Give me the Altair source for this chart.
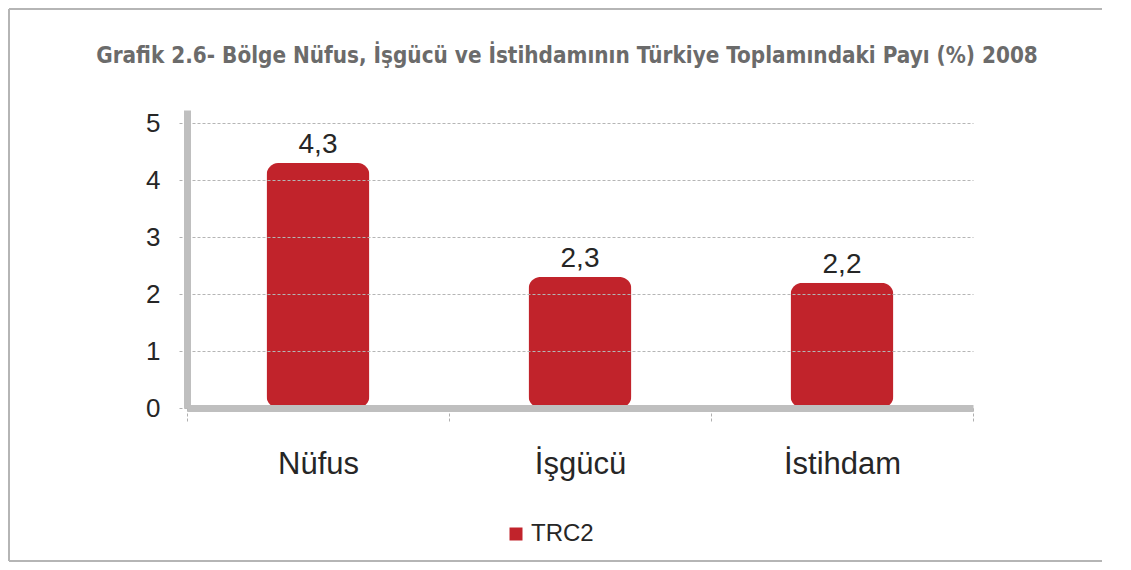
import altair as alt
import pandas as pd

categories = ["Nüfus", "İşgücü", "İstihdam"]
values = [4.3, 2.3, 2.2]
series = ["TRC2", "TRC2", "TRC2"]
y_ticks = [0, 1, 2, 3, 4, 5]
title_text = "Grafik 2.6- Bölge Nüfus, İşgücü ve İstihdamının Türkiye Toplamındaki Payı (%) 2008"

df = pd.DataFrame({"kategori": categories, "deger": values, "seri": series})
one = pd.DataFrame({"t": [title_text]})

RED = "#c1232b"
GREY = "#bfbfbf"
FONT = "Liberation Sans"

x = alt.X("kategori:N", sort=categories,
          scale=alt.Scale(paddingInner=0, paddingOuter=0),
          axis=alt.Axis(title=None, labelAngle=0, labelFontSize=31, labelFont=FONT,
                        labelColor="#262626", labelPadding=26,
                        domainColor=GREY, domainWidth=7,
                        tickBand="extent", tickColor="#b0b0b0", tickDash=[3, 2],
                        tickSize=15, tickWidth=1, zindex=1))
y = alt.Y("deger:Q", scale=alt.Scale(domain=[0, 5.23], nice=False, zero=True),
          axis=alt.Axis(title=None, values=y_ticks, format="d", labelFontSize=26, labelFont=FONT,
                        labelColor="#262626", labelPadding=18,
                        domainColor=GREY, domainWidth=7,
                        tickColor="#b0b0b0", tickDash=[3, 2], tickSize=9, tickWidth=1,
                        grid=True, gridColor="#b5b5b5", gridDash=[3, 2], gridWidth=1,
                        zindex=1))

bars = alt.Chart(df).mark_bar(cornerRadius=12, color=RED, width=alt.RelativeBandSize(0.393)).encode(
    x=x, y=y,
    color=alt.Color("seri:N", scale=alt.Scale(range=[RED]),
                    legend=alt.Legend(title=None, orient="none", legendX=317, legendY=412,
                                      symbolType="square", symbolSize=169,
                                      symbolStrokeWidth=0, labelFontSize=24,
                                      labelFont=FONT, labelColor="#262626",
                                      labelOffset=3, padding=0)),
)

labels = alt.Chart(df).transform_calculate(
    etiket="replace(format(datum.deger, '.1f'), '.', ',')"
).mark_text(fontSize=28, font=FONT, color="#262626", baseline="alphabetic", dy=-10).encode(
    x=alt.X("kategori:N", sort=categories), y="deger:Q", text="etiket:N"
)

title = alt.Chart(one).mark_text(
    font="DejaVu Sans Condensed, sans-serif",
    fontSize=22.3, fontWeight="bold", color="#6b6b6b", align="center", baseline="alphabetic"
).encode(x=alt.value(380), y=alt.value(-47), text="t:N")

def hrule(x1, x2, y1):
    return alt.Chart(pd.DataFrame({"f": [0]})).mark_rule(
        stroke="#b5b5b5", strokeWidth=2, clip=False
    ).encode(x=alt.value(x1), x2=alt.value(x2), y=alt.value(y1))

def vrule(x1, y1, y2):
    return alt.Chart(pd.DataFrame({"f": [0]})).mark_rule(
        stroke="#b5b5b5", strokeWidth=2, clip=False
    ).encode(x=alt.value(x1), y=alt.value(y1), y2=alt.value(y2))

frame = [hrule(-178, 915, -101), vrule(-178, -101, 451), hrule(-178, 915, 451)]

chart = alt.layer(*frame, bars, labels, title).properties(
    width=786, height=298,
    padding={"left": 179, "top": 102, "right": 150, "bottom": 154},
    autosize=alt.AutoSizeParams(type="none"),
).configure(background="white", view=alt.ViewConfig(stroke=None))

chart.save("out.html", embed_options={"renderer": "svg", "actions": False})
